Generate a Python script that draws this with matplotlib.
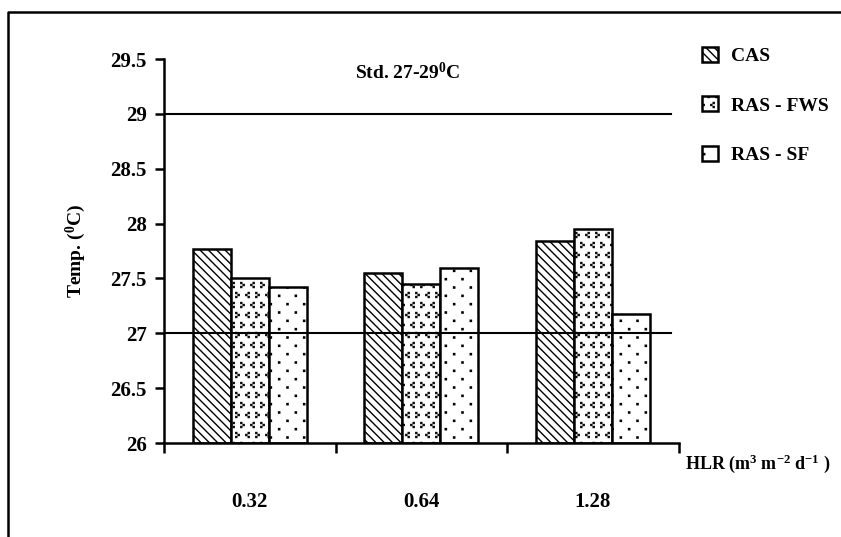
import matplotlib
matplotlib.use("Agg")
import matplotlib.pyplot as plt
import matplotlib.hatch as mhatch
from matplotlib.path import Path
from matplotlib.patches import Patch
from matplotlib.lines import Line2D
import numpy as np

plt.rcParams["font.family"] = ["Liberation Serif", "DejaVu Serif"]
plt.rcParams["font.weight"] = "bold"
plt.rcParams["mathtext.fontset"] = "custom"
plt.rcParams["mathtext.rm"] = "Liberation Serif:bold"
plt.rcParams["mathtext.it"] = "Liberation Serif:bold"
plt.rcParams["mathtext.bf"] = "Liberation Serif:bold"
plt.rcParams["hatch.linewidth"] = 1.0

hlr = ["0.32", "0.64", "1.28"]
series = ["CAS", "RAS - FWS", "RAS - SF"]
cas = [27.77, 27.55, 27.84]
ras_fws = [27.50, 27.45, 27.95]
ras_sf = [27.42, 27.60, 27.18]
hatches = ["\\\\\\\\", "O", "o"]
yticks = [26, 26.5, 27, 27.5, 28, 28.5, 29, 29.5]
ytick_labels = ["26", "26.5", "27", "27.5", "28", "28.5", "29", "29.5"]
std_low, std_high = 27, 29


def _square(cx, cy, r):
    return np.array([[cx - r, cy - r], [cx + r, cy - r], [cx + r, cy + r],
                     [cx - r, cy + r], [cx - r, cy - r]])


def _fill_squares(vertices, codes, centres, r):
    for k, (cx, cy) in enumerate(centres):
        vertices[k * 5:(k + 1) * 5] = _square(cx, cy, r)
        codes[k * 5] = Path.MOVETO
        codes[k * 5 + 1:k * 5 + 4] = Path.LINETO
        codes[k * 5 + 4] = Path.CLOSEPOLY


class SparseDots(mhatch.HatchPatternBase):
    """'o': small staggered dots, 12 rows x 6 columns per hatch unit."""

    def __init__(self, hatch, density):
        pts = []
        if "o" in hatch:
            for j in range(12):
                off = 0.75 if j % 2 == 0 else 0.25
                for i in range(6):
                    pts.append(((i + off) / 6, (j + 0.5) / 12))
        self.pts = pts
        self.num_vertices = len(pts) * 5

    def set_vertices_and_codes(self, vertices, codes):
        _fill_squares(vertices, codes, self.pts, 0.006)


class Chevrons(mhatch.HatchPatternBase):
    """'O': < and > marks built from three dots each, staggered rows."""

    def __init__(self, hatch, density):
        pts = []
        if "O" in hatch:
            a = 0.02
            for j in range(10):
                shift = 0.25 if j % 2 == 0 else -0.25
                for i in range(10):
                    s = 1 if (i + j) % 2 == 0 else -1
                    x = (i + 0.5 + shift) / 10
                    y = (j + 0.5) / 10
                    pts += [(x + s * a * 0.6, y + a), (x - s * a * 0.6, y),
                            (x + s * a * 0.6, y - a)]
        self.pts = pts
        self.num_vertices = len(pts) * 5

    def set_vertices_and_codes(self, vertices, codes):
        _fill_squares(vertices, codes, self.pts, 0.005)


mhatch._hatch_types = [mhatch.HorizontalHatch, mhatch.VerticalHatch,
                       mhatch.NorthEastHatch, mhatch.SouthEastHatch,
                       mhatch.SmallFilledCircles, SparseDots, Chevrons]

fig = plt.figure(figsize=(8.41, 5.37), dpi=100)
ax = fig.add_axes([0.195, 0.175, 0.612, 0.715])

x = np.arange(len(hlr))
w = 0.222
for i, (vals, h) in enumerate(zip([cas, ras_fws, ras_sf], hatches)):
    ax.bar(x + (i - 1) * w, np.array(vals) - 26, w, bottom=26,
           facecolor="white", edgecolor="black", linewidth=1.8, hatch=h,
           label=series[i], zorder=2)

# standard range lines
for v in (std_low, std_high):
    ax.axhline(v, xmin=0, xmax=0.986, color="black", lw=1.5, zorder=3)

ax.set_xlim(-0.5, 2.5)
ax.set_ylim(26, 29.5)
ax.set_yticks(yticks)
ax.set_yticklabels(ytick_labels)
ax.set_xticks([-0.5, 0.5, 1.5, 2.5])
ax.set_xticklabels([])
ax.set_xticks(x, minor=True)
ax.set_xticklabels(hlr, minor=True)
ax.tick_params(axis="x", which="minor", length=0, pad=35, labelsize=15)
ax.tick_params(axis="x", which="major", direction="out", length=7, width=1.8)
ax.tick_params(axis="y", direction="out", length=6.5, width=1.8, labelsize=15, pad=6)

for s in ("top", "right"):
    ax.spines[s].set_visible(False)
for s in ("left", "bottom"):
    ax.spines[s].set_linewidth(1.8)

ax.set_ylabel("Temp. ($^0$C)", fontsize=14, fontweight="bold", labelpad=16)
ax.text(0.371, 0.966, "Std. 27-29$^0$C", transform=ax.transAxes, fontsize=14,
        ha="left", va="center")
ax.text(1.013, -0.053, "HLR (m$^3$ m$^{-2}$ d$^{-1}$ )", transform=ax.transAxes,
        fontsize=13, ha="left", va="center")

handles = [Patch(facecolor="white", edgecolor="black", hatch=h, lw=1.8)
           for h in hatches]
fig.legend(handles, series, loc="upper left", bbox_to_anchor=(0.814, 0.945),
           frameon=False, fontsize=14, handlelength=0.8, handleheight=0.8,
           handletextpad=0.7, labelspacing=1.6)

# outer frame (left and top edges)
fx = 8 / 841
fy = 1 - 12 / 537
fig.add_artist(Line2D([fx, fx, 1], [0, fy, fy], transform=fig.transFigure,
                      color="black", lw=1.8))

fig.savefig("out.png", dpi=100)
